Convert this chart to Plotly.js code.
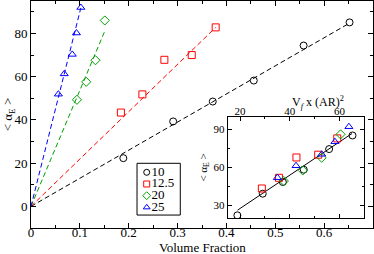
<!DOCTYPE html>
<html><head><meta charset="utf-8">
<script src="https://cdn.plot.ly/plotly-3.0.1.min.js"></script>
<style>html,body{margin:0;padding:0;background:#fff}#c{width:374px;height:254px}</style>
</head><body><div id="c"></div>
<script>
// Aspect ratios (series names)
const seriesNames = ['10', '12.5', '20', '25'];
const aspectRatios = [10, 12.5, 20, 25];
// Volume fraction (x) and <alpha_E> (y) per series
const vf10 = [0.189, 0.291, 0.372, 0.456, 0.558, 0.652];
const a10 = [22.3, 39.3, 48.5, 58.2, 74.4, 85.1];
const vf125 = [0.184, 0.228, 0.273, 0.329, 0.378];
const a125 = [43.4, 51.8, 67.8, 70.0, 82.8];
const vf20 = [0.094, 0.113, 0.132, 0.151];
const a20 = [49.3, 57.6, 67.6, 86.0];
const vf25 = [0.056, 0.068, 0.0845, 0.093, 0.102];
const a25 = [51.9, 61.3, 70.3, 80.2, 92.0];
// Linear fits through origin (slopes)
const fitSlopes = [130, 219, 537, 900];
// Inset fit line: slope, intercept, x extent (Vf x AR^2)
const insetFitSlope = 1.31;
const insetFitIntercept = 1.5;
const insetFitX = [19, 65];
// Tick labels
const mainXTicks = [0, 0.1, 0.2, 0.3, 0.4, 0.5, 0.6];
const mainXTickText = ['0', '0.1', '0.2', '0.3', '0.4', '0.5', '0.6'];
const mainYTicks = [0, 20, 40, 60, 80];
const insetXTicks = [20, 40, 60];
const insetYTicks = [30, 60, 90];

const vfs = [vf10, vf125, vf20, vf25];
const alphas = [a10, a125, a20, a25];
const colors = ['#000000', '#ff0000', '#00a000', '#0000ff'];
const symbols = ['circle-open', 'square-open', 'diamond-open', 'triangle-up-open'];
const FONT = 'Liberation Serif, Times New Roman, serif';

const traces = [];
for (let i = 0; i < 4; i++) {
  const xmax = Math.max(...vfs[i]);
  traces.push({x: [0, xmax], y: [0, fitSlopes[i] * xmax], mode: 'lines', xaxis: 'x', yaxis: 'y',
    line: {color: colors[i], width: 1, dash: '5px,3px'}, showlegend: false, hoverinfo: 'skip'});
}
for (let i = 0; i < 4; i++) {
  traces.push({x: vfs[i], y: alphas[i], mode: 'markers', xaxis: 'x', yaxis: 'y', name: seriesNames[i],
    marker: {symbol: symbols[i], size: 7, color: colors[i], line: {width: 1, color: colors[i]}}, showlegend: false});
}
traces.push({x: insetFitX, y: insetFitX.map(v => insetFitSlope * v + insetFitIntercept), mode: 'lines',
  xaxis: 'x2', yaxis: 'y2', line: {color: '#000', width: 1}, showlegend: false});
for (let i = 0; i < 4; i++) {
  traces.push({x: vfs[i].map(v => v * aspectRatios[i] * aspectRatios[i]), y: alphas[i], mode: 'markers',
    xaxis: 'x2', yaxis: 'y2', name: seriesNames[i],
    marker: {symbol: symbols[i], size: 7, color: colors[i], line: {width: 1, color: colors[i]}}, showlegend: false});
}
for (let i = 0; i < 4; i++) {
  traces.push({x: [0.224], y: [i], mode: 'markers+text', xaxis: 'x3', yaxis: 'y3', text: [seriesNames[i]],
    textposition: 'middle right', textfont: {family: FONT, size: 13, color: '#000'},
    marker: {symbol: symbols[i], size: 6, color: colors[i], line: {width: 1, color: colors[i]}}, showlegend: false, hoverinfo: 'skip'});
}

const axBase = {showgrid: false, zeroline: false, showline: true, linecolor: '#000', linewidth: 1,
  ticks: 'inside', mirror: 'allticks', tickcolor: '#000', tickwidth: 1};

const layout = {
  width: 374, height: 254,
  margin: {l: 31, r: 1, t: 1, b: 26},
  paper_bgcolor: '#fff', plot_bgcolor: '#fff',
  font: {family: FONT, size: 13, color: '#000'},
  showlegend: false,
  xaxis: Object.assign({}, axBase, {domain: [0, 1], anchor: 'y', range: [0, 0.7], tickvals: mainXTicks, ticktext: mainXTickText,
    ticklen: 5, ticklabelstandoff: -8, minor: {dtick: 0.05, tick0: 0, ticklen: 3, ticks: 'inside', tickcolor: '#000'},
    tickfont: {family: FONT, size: 13}}),
  yaxis: Object.assign({}, axBase, {domain: [0, 1], anchor: 'x', range: [-10, 95], tickvals: mainYTicks,
    ticklen: 5, minor: {dtick: 10, tick0: 0, ticklen: 3, ticks: 'inside', tickcolor: '#000'},
    tickfont: {family: FONT, size: 13}, title: {text: '&lt; α<sub>E</sub> &gt;', font: {family: FONT, size: 13}, standoff: 4}}),
  xaxis2: Object.assign({}, axBase, {domain: [0.575, 0.975], anchor: 'y2', side: 'top', range: [15, 70], tickvals: insetXTicks,
    ticklen: 4, ticklabelstandoff: -4, minor: {dtick: 10, tick0: 0, ticklen: 2, ticks: 'inside', tickcolor: '#000'},
    tickfont: {family: FONT, size: 11}}),
  yaxis2: Object.assign({}, axBase, {domain: [0.043, 0.491], anchor: 'x2', range: [20, 100], tickvals: insetYTicks,
    ticklen: 4, minor: {dtick: 15, tick0: 0, ticklen: 2, ticks: 'inside', tickcolor: '#000'},
    tickfont: {family: FONT, size: 11}, title: {text: '&lt; α<sub>E</sub> &gt;', font: {family: FONT, size: 11}, standoff: 3}}),
  xaxis3: {domain: [0.31, 0.4365], anchor: 'y3', range: [0, 1], visible: false, fixedrange: true},
  yaxis3: {domain: [0.057, 0.285], anchor: 'x3', range: [3.66, -0.77], visible: false, fixedrange: true},
  shapes: [
    {type: 'rect', xref: 'paper', yref: 'paper', x0: 0.31, x1: 0.4365, y0: 0.057, y1: 0.285,
      line: {color: '#000', width: 1}, fillcolor: 'rgba(0,0,0,0)', layer: 'above'},
    {type: 'rect', xref: 'paper', yref: 'paper', x0: 0.575, x1: 0.975, y0: 0.043, y1: 0.491,
      line: {width: 0}, fillcolor: '#fff', layer: 'below'}
  ],
  annotations: [
    {text: 'Volume Fraction', xref: 'paper', yref: 'paper', x: 0.5, y: -0.086,
      xanchor: 'center', yanchor: 'middle', showarrow: false, font: {family: FONT, size: 13}},
    {text: 'V<sub><i>f</i></sub> x (AR)<sup>2</sup>', xref: 'paper', yref: 'paper', x: 0.84, y: 0.555,
      xanchor: 'center', yanchor: 'middle', showarrow: false, font: {family: FONT, size: 12}}
  ]
};

Plotly.newPlot('c', traces, layout, {staticPlot: true, displayModeBar: false});
</script>
</body></html>
